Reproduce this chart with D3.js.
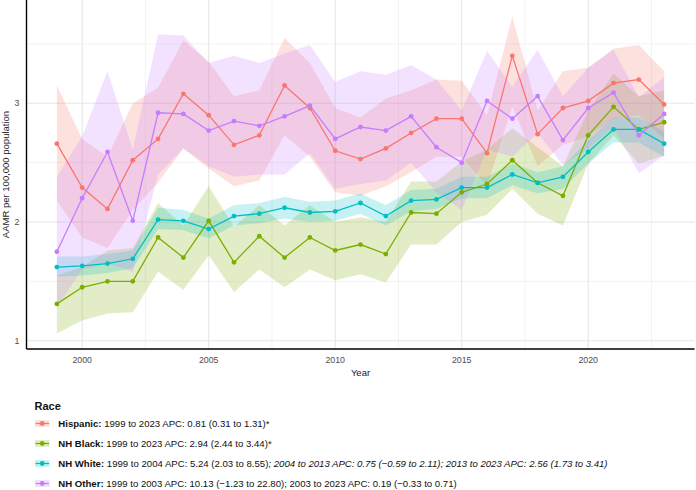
<!DOCTYPE html>
<html lang="en">
<head>
<meta charset="UTF-8">
<title>AAMR by race</title>
<script src="https://d3js.org/d3.v7.min.js"></script>
<style>
    body { margin: 0; background: #fff; }
    svg { display: block; font-family: "Liberation Sans", Arial, sans-serif; }
</style>
</head>
<body>
<div id="chart"></div>
<script>
    var years = [1999, 2000, 2001, 2002, 2003, 2004, 2005, 2006, 2007, 2008, 2009, 2010, 2011,
                 2012, 2013, 2014, 2015, 2016, 2017, 2018, 2019, 2020, 2021, 2022, 2023];

    var hispanic      = [2.66, 2.29, 2.11, 2.52, 2.70, 3.08, 2.90, 2.65, 2.73, 3.15, 2.96, 2.60, 2.53,
                         2.62, 2.75, 2.87, 2.87, 2.58, 3.40, 2.74, 2.96, 3.02, 3.17, 3.20, 2.99];
    var hispanicLow   = [2.18, 1.87, 1.78, 2.10, 2.33, 2.62, 2.45, 2.30, 2.35, 2.73, 2.55, 2.25, 2.22,
                         2.30, 2.42, 2.55, 2.55, 2.30, 2.97, 2.47, 2.65, 2.72, 2.87, 2.90, 2.70];
    var hispanicHigh  = [3.15, 2.70, 2.55, 3.00, 3.13, 3.53, 3.35, 3.06, 3.11, 3.55, 3.34, 2.96, 2.88,
                         3.04, 3.11, 3.20, 3.19, 2.90, 3.73, 2.94, 3.27, 3.30, 3.46, 3.49, 3.27];

    var black         = [1.31, 1.45, 1.50, 1.50, 1.87, 1.70, 2.01, 1.66, 1.88, 1.70, 1.87, 1.76, 1.81,
                         1.73, 2.08, 2.07, 2.25, 2.32, 2.52, 2.33, 2.22, 2.73, 2.97, 2.78, 2.84];
    var blackLow      = [1.06, 1.17, 1.23, 1.24, 1.58, 1.43, 1.72, 1.41, 1.60, 1.45, 1.60, 1.51, 1.56,
                         1.49, 1.81, 1.81, 2.00, 2.06, 2.28, 2.07, 1.97, 2.49, 2.73, 2.49, 2.56];
    var blackHigh     = [1.55, 1.62, 1.76, 1.78, 2.16, 1.97, 2.30, 1.96, 2.14, 1.97, 2.14, 2.00, 2.04,
                         2.00, 2.34, 2.34, 2.51, 2.61, 2.79, 2.63, 2.47, 2.94, 3.25, 3.06, 3.11];

    var white         = [1.62, 1.63, 1.65, 1.69, 2.02, 2.01, 1.94, 2.05, 2.07, 2.12, 2.08, 2.09, 2.16,
                         2.05, 2.18, 2.19, 2.29, 2.29, 2.40, 2.33, 2.38, 2.59, 2.78, 2.78, 2.66];
    var whiteLow      = [1.54, 1.55, 1.57, 1.61, 1.94, 1.93, 1.86, 1.97, 1.99, 2.03, 2.00, 2.01, 2.07,
                         1.97, 2.09, 2.11, 2.20, 2.20, 2.31, 2.24, 2.28, 2.49, 2.67, 2.67, 2.55];
    var whiteHigh     = [1.71, 1.71, 1.73, 1.76, 2.12, 2.10, 2.03, 2.14, 2.16, 2.21, 2.17, 2.18, 2.24,
                         2.14, 2.27, 2.28, 2.38, 2.38, 2.49, 2.42, 2.47, 2.69, 2.88, 2.88, 2.76];

    var other         = [1.75, 2.20, 2.59, 2.01, 2.92, 2.91, 2.77, 2.85, 2.81, 2.89, 2.98, 2.70, 2.80,
                         2.77, 2.89, 2.63, 2.50, 3.02, 2.87, 3.06, 2.69, 2.96, 3.09, 2.73, 2.91];
    var otherLow      = [1.28, 1.60, 1.65, 1.58, 2.40, 2.62, 2.47, 2.38, 2.40, 2.40, 2.58, 2.28, 2.32,
                         2.35, 2.50, 2.25, 2.10, 2.61, 2.55, 2.75, 2.48, 2.62, 2.80, 2.41, 2.56];
    var otherHigh     = [2.38, 2.72, 3.27, 2.61, 3.58, 3.57, 3.34, 3.40, 3.34, 3.42, 3.49, 3.18, 3.27,
                         3.24, 3.32, 3.20, 2.94, 3.44, 3.14, 3.45, 3.06, 3.30, 3.45, 3.05, 3.22];

    var yTicks = [1, 2, 3];
    var yMinor = [1.5, 2.5, 3.5];
    var xTicks = [2000, 2005, 2010, 2015, 2020];
    var xMinor = [2002.5, 2007.5, 2012.5, 2017.5, 2022.5];

    var groups = [
        { key: "Hispanic", color: "#F8766D", val: hispanic, lo: hispanicLow, hi: hispanicHigh,
          label: [["Hispanic:", "b"], [" 1999 to 2023 APC: 0.81 (0.31 to 1.31)*", ""]] },
        { key: "NH Black", color: "#7CAE00", val: black, lo: blackLow, hi: blackHigh,
          label: [["NH Black:", "b"], [" 1999 to 2023 APC: 2.94 (2.44 to 3.44)*", ""]] },
        { key: "NH White", color: "#00BFC4", val: white, lo: whiteLow, hi: whiteHigh,
          label: [["NH White:", "b"], [" 1999 to 2004 APC: 5.24 (2.03 to 8.55)", ""],
                  ["; 2004 to 2013 APC: 0.75 (\u22120.59 to 2.11); 2013 to 2023 APC: 2.56 (1.73 to 3.41)", "i"]] },
        { key: "NH Other", color: "#C77CFF", val: other, lo: otherLow, hi: otherHigh,
          label: [["NH Other:", "b"], [" 1999 to 2003 APC: 10.13 (\u22121.23 to 22.80); 2003 to 2023 APC: 0.19 (\u22120.33 to 0.71)", ""]] }
    ];

    var width = 696, height = 490;
    var padLeft = 26.5, padRight = 694.5, padTop = 0, padBottom = 349;

    var x = d3.scaleLinear().domain([1997.8, 2024.2]).range([padLeft, padRight]);
    var y = d3.scaleLinear().domain([0.93, 3.87]).range([padBottom, padTop]);

    var svg = d3.select("#chart").append("svg")
        .attr("width", width)
        .attr("height", height);

    // grid
    var grid = svg.append("g");
    grid.selectAll(".ymin").data(yMinor).enter().append("line")
        .attr("x1", padLeft).attr("x2", padRight)
        .attr("y1", d => y(d)).attr("y2", d => y(d))
        .attr("stroke", "#ebebeb").attr("stroke-width", 0.6);
    grid.selectAll(".xmin").data(xMinor).enter().append("line")
        .attr("y1", padTop).attr("y2", padBottom)
        .attr("x1", d => x(d)).attr("x2", d => x(d))
        .attr("stroke", "#ebebeb").attr("stroke-width", 0.6);
    grid.selectAll(".ymaj").data(yTicks).enter().append("line")
        .attr("x1", padLeft).attr("x2", padRight)
        .attr("y1", d => y(d)).attr("y2", d => y(d))
        .attr("stroke", "#e6e6e6").attr("stroke-width", 1.1);
    grid.selectAll(".xmaj").data(xTicks).enter().append("line")
        .attr("y1", padTop).attr("y2", padBottom)
        .attr("x1", d => x(d)).attr("x2", d => x(d))
        .attr("stroke", "#e6e6e6").attr("stroke-width", 1.1);

    var area = d3.area()
        .x((d, i) => x(years[i]))
        .y0(d => y(d[0]))
        .y1(d => y(d[1]));

    var line = d3.line()
        .x((d, i) => x(years[i]))
        .y(d => y(d));

    // ribbons
    groups.forEach(function (g) {
        svg.append("path")
            .datum(g.lo.map((v, i) => [v, g.hi[i]]))
            .attr("d", area)
            .attr("fill", g.color)
            .attr("fill-opacity", 0.22);
    });

    // lines
    groups.forEach(function (g) {
        svg.append("path")
            .datum(g.val)
            .attr("d", line)
            .attr("fill", "none")
            .attr("stroke", g.color)
            .attr("stroke-width", 1.3);
    });

    // points
    groups.forEach(function (g) {
        svg.append("g").selectAll("circle")
            .data(g.val).enter().append("circle")
            .attr("cx", (d, i) => x(years[i]))
            .attr("cy", d => y(d))
            .attr("r", 2.4)
            .attr("fill", g.color);
    });

    // axes
    svg.append("line")
        .attr("x1", padLeft).attr("x2", padLeft).attr("y1", padTop).attr("y2", padBottom)
        .attr("stroke", "#000").attr("stroke-width", 1.4);
    svg.append("line")
        .attr("x1", padLeft).attr("x2", padRight).attr("y1", padBottom).attr("y2", padBottom)
        .attr("stroke", "#000").attr("stroke-width", 1.4);

    svg.selectAll(".ytick").data(yTicks).enter().append("text")
        .attr("x", 19.5)
        .attr("y", d => y(d) + 3.2)
        .attr("text-anchor", "end")
        .attr("font-size", 8.8)
        .attr("fill", "#4d4d4d")
        .text(d => d);

    svg.selectAll(".xtick").data(xTicks).enter().append("text")
        .attr("x", d => x(d))
        .attr("y", 362.5)
        .attr("text-anchor", "middle")
        .attr("font-size", 8.8)
        .attr("fill", "#4d4d4d")
        .text(d => d);

    svg.append("text")
        .attr("x", (padLeft + padRight) / 2)
        .attr("y", 376)
        .attr("text-anchor", "middle")
        .attr("font-size", 9.5)
        .attr("fill", "#222")
        .text("Year");

    svg.append("text")
        .attr("transform", "translate(8.5," + ((padTop + padBottom) / 2) + ") rotate(-90)")
        .attr("text-anchor", "middle")
        .attr("font-size", 9.5)
        .attr("fill", "#222")
        .text("AAMR per 100,000 population");

    // legend
    var legend = svg.append("g");
    legend.append("text")
        .attr("x", 34.5)
        .attr("y", 410)
        .attr("font-size", 11)
        .attr("font-weight", "bold")
        .attr("fill", "#111")
        .text("Race");

    groups.forEach(function (g, i) {
        var cy = 423.5 + i * 20;
        var item = legend.append("g");
        item.append("rect")
            .attr("x", 35).attr("y", cy - 3.5)
            .attr("width", 14.5).attr("height", 7)
            .attr("fill", g.color).attr("fill-opacity", 0.22);
        item.append("line")
            .attr("x1", 35.5).attr("x2", 49)
            .attr("y1", cy).attr("y2", cy)
            .attr("stroke", g.color).attr("stroke-width", 1.3);
        item.append("circle")
            .attr("cx", 42.2).attr("cy", cy).attr("r", 2.4)
            .attr("fill", g.color);
        var t = item.append("text")
            .attr("x", 58.3)
            .attr("y", cy + 3.3)
            .attr("font-size", 9.6)
            .attr("fill", "#111");
        g.label.forEach(function (part) {
            var s = t.append("tspan").text(part[0]);
            if (part[1] === "b") s.attr("font-weight", "bold");
            if (part[1] === "i") s.attr("font-style", "italic");
        });
    });
</script>
</body>
</html>
